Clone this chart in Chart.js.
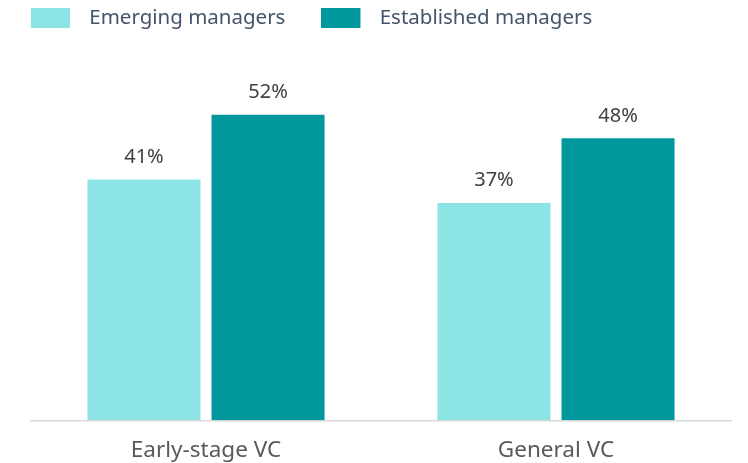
<!DOCTYPE html>
<html><head><meta charset="utf-8">
<script src="https://cdn.jsdelivr.net/npm/chart.js@4.4.1/dist/chart.umd.min.js"></script>
<style>html,body{margin:0;padding:0;background:#fff;}canvas{display:block;}</style>
</head><body>
<canvas id="c" width="748" height="463"></canvas>
<script>
const categories = ['Early-stage VC', 'General VC'];
const seriesNames = ['Emerging managers', 'Established managers'];
const emerging = [41, 37];
const established = [52, 48];
const colors = ['#8CE4E4', '#00989D'];
const FONT = "'Noto Sans', sans-serif";

function legendSwatch(color){
  const c = document.createElement('canvas');
  c.width = 48; c.height = 20;
  const x = c.getContext('2d');
  x.fillStyle = color; x.fillRect(0, 0, 39, 20);
  return c;
}
const swatches = colors.map(legendSwatch);

const valueLabels = {
  id: 'valueLabels',
  afterDatasetsDraw(chart){
    const ctx = chart.ctx;
    ctx.save();
    ctx.font = '20px ' + FONT;
    ctx.fillStyle = '#404040';
    ctx.textAlign = 'center';
    ctx.textBaseline = 'alphabetic';
    chart.data.datasets.forEach((ds, i) => {
      chart.getDatasetMeta(i).data.forEach((bar, j) => {
        ctx.fillText(ds.data[j] + '%', bar.x, bar.y - 16.5);
      });
    });
    ctx.restore();
  }
};

new Chart(document.getElementById('c'), {
  type: 'bar',
  data: {
    labels: categories,
    datasets: [
      { label: seriesNames[0], data: emerging, backgroundColor: colors[0], categoryPercentage: 0.709, barPercentage: 0.911 },
      { label: seriesNames[1], data: established, backgroundColor: colors[1], categoryPercentage: 0.709, barPercentage: 0.911 }
    ]
  },
  options: {
    responsive: false,
    devicePixelRatio: 1,
    animation: false,
    layout: { padding: { left: -5, right: 17, top: -28, bottom: -17.5 } },
    plugins: {
      tooltip: { enabled: false },
      legend: {
        position: 'top',
        align: 'start',
        labels: {
          usePointStyle: true,
          pointStyleWidth: 48,
          padding: 36,
          color: '#44546A',
          font: { family: FONT, size: 20.5 },
          generateLabels(chart){
            return chart.data.datasets.map((ds, i) => ({
              text: ds.label, fillStyle: ds.backgroundColor, strokeStyle: ds.backgroundColor,
              lineWidth: 0, pointStyle: swatches[i], datasetIndex: i, hidden: false, fontColor: '#44546A'
            }));
          }
        }
      }
    },
    scales: {
      x: {
        grid: { display: false, drawTicks: false },
        border: { display: true, color: '#D9D9D9', width: 1.5 },
        ticks: { color: '#595959', font: { family: FONT, size: 22.5 }, padding: 16.6 }
      },
      y: {
        display: true, min: 0, max: 65,
        afterFit(scale){ scale.width = 36; },
        ticks: { display: false },
        grid: { display: false, drawTicks: false },
        border: { display: false }
      }
    }
  },
  plugins: [valueLabels]
});
</script>
</body></html>
